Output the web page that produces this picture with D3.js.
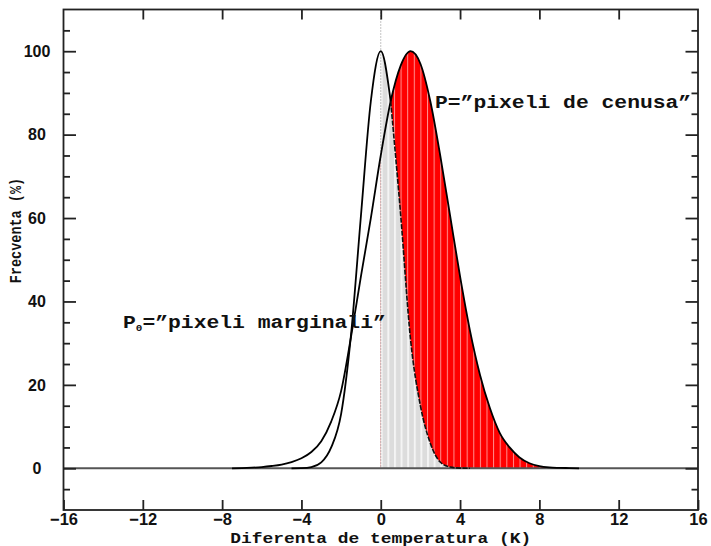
<!DOCTYPE html>
<html>
<head>
<meta charset="utf-8">
<script src="https://cdn.jsdelivr.net/npm/d3@7"></script>
<style>
  html, body { margin: 0; padding: 0; background: #fff; }
  svg { display: block; }
  .tick-label { font-family: "Liberation Sans", Arial, Helvetica, sans-serif; font-weight: bold; fill: #111; }
  .mono { font-family: "Courier New", "Liberation Mono", monospace; font-weight: bold; fill: #111; }
</style>
</head>
<body>
<svg id="chart" width="711" height="546"></svg>
<script>
// Temperature difference samples (K)
const xs = [-8, -7.5, -7, -6.5, -6, -5.5, -5, -4.5, -4, -3.5, -3, -2.5, -2, -1.5, -1, -0.5,
            0, 0.5, 1, 1.5, 2, 2.5, 3, 3.5, 4, 4.5, 5, 5.5, 6, 6.5, 7, 7.5, 8, 8.5, 9, 9.5, 10];

// P0 = "pixeli marginali" (frequency, %)
const p0Values = [0, 0, 0, 0, 0, 0, 0, 0, 0.05, 0.3, 1.4, 5, 13, 32, 60.5, 88,
                  100, 88, 61, 31, 15, 6, 1.5, 0.3, 0.05, 0, 0, 0, 0, 0, 0, 0, 0, 0, 0, 0, 0];

// P = "pixeli de cenusa" (frequency, %)
const pValues = [0, 0, 0.05, 0.15, 0.3, 0.55, 0.9, 1.5, 2.4, 3.9, 6.5, 11.2, 18.5, 31.5, 46, 60,
                 75, 88, 96.5, 100, 97, 88, 75, 60.5, 46, 33, 22.5, 14.5, 8.5, 5, 2.6, 1.2, 0.5, 0.2, 0.1, 0.05, 0];

const xTicks = [-16, -12, -8, -4, 0, 4, 8, 12, 16];
const yTicks = [0, 20, 40, 60, 80, 100];
const yMinorTicks = [-5, 5, 10, 15, 25, 30, 35, 45, 50, 55, 65, 70, 75, 85, 90, 95, 105];

const xTitle = "Diferenta de temperatura (K)";
const yTitle = "Frecventa (%)";
const labelP = "P=\u201dpixeli de cenusa\u201d";
const labelP0Tail = "=\u201dpixeli marginali\u201d";

const W = 711, H = 546;
const margin = { left: 63.5, right: 13, top: 9.5, bottom: 36 };

const svg = d3.select("#chart");
const x = d3.scaleLinear().domain([-16, 16]).range([margin.left, W - margin.right]);
const y = d3.scaleLinear().domain([-10, 110]).range([H - margin.bottom, margin.top]);

const pts = xs.map((v, i) => ({ x: v, p0: p0Values[i], p: pValues[i] }));

// striped fills (one stripe per histogram bin)
const binW = x(1 / 3) - x(0);
const defs = svg.append("defs");
function stripes(id, base, line, lw) {
  const pat = defs.append("pattern")
    .attr("id", id)
    .attr("patternUnits", "userSpaceOnUse")
    .attr("width", binW).attr("height", 10)
    .attr("patternTransform", `translate(${x(0)},0)`);
  pat.append("rect").attr("width", binW).attr("height", 10).attr("fill", base);
  pat.append("rect").attr("x", 0).attr("width", lw).attr("height", 10).attr("fill", line);
}
stripes("redStripes", "#ff0000", "#ff8f8f", 1);
stripes("grayStripes", "#dcdcdc", "#f4f4f4", 2);

const curve = d3.curveMonotoneX;
const areaP = d3.area().x(d => x(d.x)).y0(y(0)).y1(d => y(d.p)).curve(curve);
const areaP0 = d3.area().x(d => x(d.x)).y0(y(0)).y1(d => y(d.p0)).curve(curve);
const lineP = d3.line().x(d => x(d.x)).y(d => y(d.p)).curve(curve);
const lineP0 = d3.line().x(d => x(d.x)).y(d => y(d.p0)).curve(curve);

const right = pts.filter(d => d.x >= 0);

// P area to the right of zero, then the P0 area over it
svg.append("path").datum(right).attr("d", areaP).attr("fill", "url(#redStripes)");
svg.append("path").datum(right).attr("d", areaP0).attr("fill", "url(#grayStripes)");

// dotted zero line
svg.append("line")
  .attr("x1", x(0)).attr("x2", x(0))
  .attr("y1", y(110)).attr("y2", y(0))
  .attr("stroke", "#8a8a8a").attr("stroke-width", 1).attr("stroke-dasharray", "1,2");

// zero baseline
svg.append("line")
  .attr("x1", x(-16)).attr("x2", x(16))
  .attr("y1", y(0)).attr("y2", y(0))
  .attr("stroke", "#555").attr("stroke-width", 2);

// curves
svg.append("path").datum(pts.filter(d => d.x >= -7.5))
  .attr("d", lineP).attr("fill", "none").attr("stroke", "#000").attr("stroke-width", 1.8);
svg.append("path").datum(pts.filter(d => d.x >= -4.5 && d.x <= 0.5))
  .attr("d", lineP0).attr("fill", "none").attr("stroke", "#000").attr("stroke-width", 1.8);
svg.append("path").datum(pts.filter(d => d.x >= 0.5 && d.x <= 4.5))
  .attr("d", lineP0).attr("fill", "none").attr("stroke", "#111").attr("stroke-width", 1.6)
  .attr("stroke-dasharray", "5,1.5");

// frame
svg.append("rect")
  .attr("x", x(-16)).attr("y", y(110))
  .attr("width", x(16) - x(-16)).attr("height", y(-10) - y(110))
  .attr("fill", "none").attr("stroke", "#222").attr("stroke-width", 1.8);

function styleAxis(g) {
  g.select(".domain").remove();
  g.selectAll(".tick line").attr("stroke", "#222").attr("stroke-width", 1.8);
}

// bottom axis
const gx = svg.append("g").attr("transform", `translate(0,${y(-10)})`)
  .call(d3.axisBottom(x).tickValues(xTicks).tickSize(-10).tickPadding(3).tickFormat(d3.format("d")));
styleAxis(gx);
gx.selectAll(".tick text").attr("class", "tick-label").attr("font-size", 16.5).attr("fill", "#111");

// top axis
const gxt = svg.append("g").attr("transform", `translate(0,${y(110)})`)
  .call(d3.axisTop(x).tickValues(xTicks.slice(1, -1)).tickSize(-10).tickFormat(""));
styleAxis(gxt);

// left axis
const gy = svg.append("g").attr("transform", `translate(${x(-16)},0)`)
  .call(d3.axisLeft(y).tickValues(yTicks).tickSize(-12.5).tickFormat(d3.format("d")));
styleAxis(gy);
gy.selectAll(".tick text").attr("class", "tick-label").attr("font-size", 16)
  .attr("text-anchor", "middle").attr("x", 37 - x(-16)).attr("fill", "#111");
const gym = svg.append("g").attr("transform", `translate(${x(-16)},0)`)
  .call(d3.axisLeft(y).tickValues(yMinorTicks).tickSize(-6.5).tickFormat(""));
styleAxis(gym);

// right axis
const gyr = svg.append("g").attr("transform", `translate(${x(16)},0)`)
  .call(d3.axisRight(y).tickValues(yTicks).tickSize(-12.5).tickFormat(""));
styleAxis(gyr);
const gyrm = svg.append("g").attr("transform", `translate(${x(16)},0)`)
  .call(d3.axisRight(y).tickValues(yMinorTicks).tickSize(-6.5).tickFormat(""));
styleAxis(gyrm);

// axis titles
svg.append("text").attr("class", "mono")
  .attr("transform", `translate(${x(0)},542.5) scale(1.28,1)`)
  .attr("text-anchor", "middle").attr("font-size", 14)
  .text(xTitle);
svg.append("text").attr("class", "mono")
  .attr("transform", `translate(21,${y(57)}) scale(1.2,1) rotate(-90)`)
  .attr("text-anchor", "middle").attr("font-size", 13.5)
  .text(yTitle);

// curve labels
svg.append("text").attr("class", "mono")
  .attr("transform", "translate(435,108) scale(1.22,1)")
  .attr("font-size", 17.5)
  .text(labelP);
const t0 = svg.append("text").attr("class", "mono")
  .attr("transform", "translate(123,328) scale(1.22,1)")
  .attr("font-size", 17.5);
t0.append("tspan").text("P");
t0.append("tspan").attr("font-size", 9).attr("dy", 3).text("0");
t0.append("tspan").attr("dy", -3).text(labelP0Tail);
</script>
</body>
</html>
